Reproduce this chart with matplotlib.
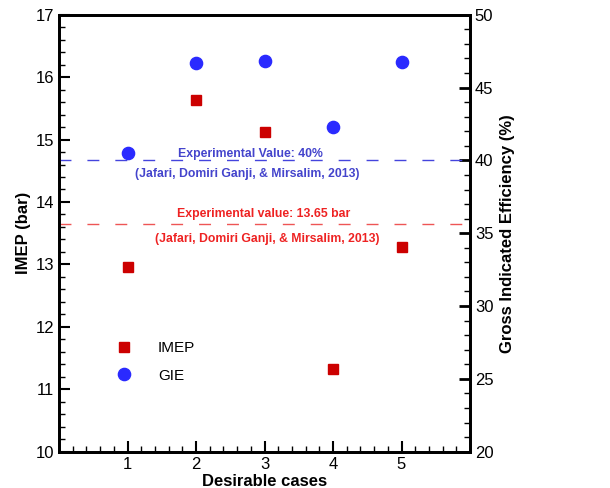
import matplotlib
matplotlib.use("Agg")
import matplotlib.pyplot as plt
from matplotlib.ticker import MultipleLocator
from matplotlib.lines import Line2D

plt.rcParams['font.family'] = ['Liberation Sans', 'DejaVu Sans']

cases = [1, 2, 3, 4, 5]
imep = [12.96, 15.64, 15.12, 11.33, 13.28]
gie = [40.53, 46.69, 46.85, 42.27, 46.78]
imep_exp = 13.65
gie_exp = 40
xticks = [1, 2, 3, 4, 5]

fig = plt.figure(figsize=(6.1, 4.88), dpi=100)
ax = fig.add_axes([59/610, 1-451.7/488, (470-59)/610, (451.7-14.7)/488])
ax2 = ax.twinx()

red = '#cc0000'
blue = '#2a2aff'

ax.plot(cases, imep, 's', color=red, markersize=7.2, zorder=5)
ax2.plot(cases, gie, 'o', color=blue, markersize=8.8, zorder=5)

ax.axhline(imep_exp, color='#ee5555', lw=1, dashes=(8.6, 11.5))
ax2.axhline(gie_exp, color='#4444dd', lw=1, dashes=(8.6, 11.5))

ax.set_xlim(0, 6)
ax.set_ylim(10, 17)
ax2.set_ylim(20, 50)
ax.set_xticks(xticks)
ax.xaxis.set_minor_locator(MultipleLocator(0.2))
ax.yaxis.set_major_locator(MultipleLocator(1))
ax.yaxis.set_minor_locator(MultipleLocator(0.2))
ax2.yaxis.set_major_locator(MultipleLocator(5))
ax2.yaxis.set_minor_locator(MultipleLocator(1))

for a in (ax, ax2):
    for s in a.spines.values():
        s.set_linewidth(2)
ax.tick_params(axis='both', which='major', direction='in', length=8, width=1.5, labelsize=12)
ax.tick_params(axis='both', which='minor', direction='in', length=4, width=1)
ax.tick_params(axis='y', right=False)
ax.tick_params(axis='x', top=False, which='both')
ax2.tick_params(axis='y', which='major', direction='in', length=8, width=2, labelsize=12)
ax2.tick_params(axis='y', which='minor', direction='in', length=4, width=1)

ax.set_xlabel('Desirable cases', fontsize=12, fontweight='bold', labelpad=2)
ax.set_ylabel('IMEP (bar)', fontsize=12, fontweight='bold', labelpad=3)
ax2.set_ylabel('Gross Indicated Efficiency (%)', fontsize=12, fontweight='bold', labelpad=5)

fs = 8.8
ax.text(2.8, 14.77, 'Experimental Value: 40%', color='#4444cc', fontsize=fs,
        fontweight='bold', ha='center', va='center')
ax.text(2.75, 14.45, '(Jafari, Domiri Ganji, & Mirsalim, 2013)', color='#4444cc', fontsize=fs,
        fontweight='bold', ha='center', va='center')
ax.text(2.99, 13.81, 'Experimental value: 13.65 bar', color='#ee2222', fontsize=fs,
        fontweight='bold', ha='center', va='center')
ax.text(3.04, 13.41, '(Jafari, Domiri Ganji, & Mirsalim, 2013)', color='#ee2222', fontsize=fs,
        fontweight='bold', ha='center', va='center')

handles = [Line2D([], [], marker='s', color=red, ls='none', markersize=7.2),
           Line2D([], [], marker='o', color=blue, ls='none', markersize=8.8)]
ax.legend(handles, ['IMEP', 'GIE'], loc='upper left', bbox_to_anchor=(0.088, 0.285),
          frameon=False, fontsize=11, handletextpad=1.2, labelspacing=0.9)

fig.savefig('out.png', dpi=100)
